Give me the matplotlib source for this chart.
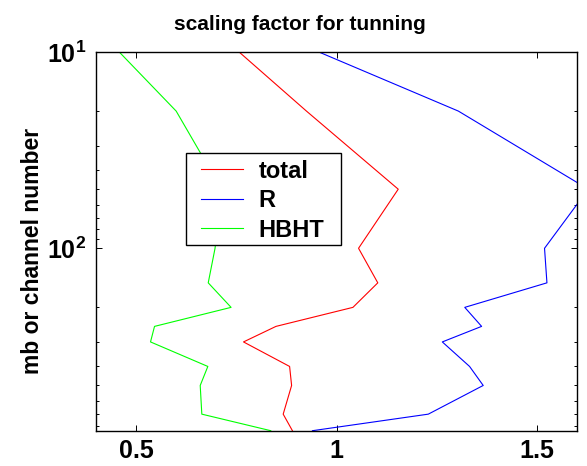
import matplotlib
matplotlib.use("Agg")
import matplotlib.pyplot as plt
from matplotlib.patches import Rectangle
from matplotlib.ticker import FixedLocator, LogLocator, NullFormatter

plt.rcParams['font.family'] = ['Liberation Sans', 'DejaVu Sans']
plt.rcParams['font.weight'] = 'bold'
plt.rcParams['mathtext.fontset'] = 'custom'
plt.rcParams['mathtext.rm'] = 'Liberation Sans:bold'
plt.rcParams['mathtext.bf'] = 'Liberation Sans:bold'
plt.rcParams['mathtext.it'] = 'Liberation Sans:bold'

# pressure levels (mb)
levels = [10, 20, 50, 100, 150, 200, 250, 300, 400, 500, 700, 850]

total = [0.757, 0.925, 1.154, 1.055, 1.103, 1.041, 0.849, 0.768, 0.883, 0.888, 0.867, 0.890]
r_part = [0.956, 1.304, 1.628, 1.519, 1.525, 1.320, 1.362, 1.264, 1.332, 1.366, 1.229, 0.940]
hbht = [0.458, 0.600, 0.713, 0.697, 0.680, 0.737, 0.546, 0.536, 0.679, 0.660, 0.664, 0.836]

x_ticks = [0.5, 1.0, 1.5]
x_tick_labels = ['0.5', '1', '1.5']
y_ticks = [10, 100]
y_tick_labels = [r'$10^{1}$', r'$10^{2}$']

W, H = 587, 466
fig = plt.figure(figsize=(W / 100, H / 100), dpi=100)
ax = fig.add_axes([96 / W, 1 - 430.7 / H, (577 - 96) / W, (430.7 - 52) / H])

ax.plot(total, levels, color='#ff0000', lw=0.8, label='total')
ax.plot(r_part, levels, color='#0000ff', lw=0.8, label='R')
ax.plot(hbht, levels, color='#00ff00', lw=0.8, label='HBHT')

ax.set_yscale('log')
ax.set_ylim(850, 10)
ax.set_xlim(0.4, 1.6)

ax.xaxis.set_major_locator(FixedLocator(x_ticks))
ax.set_xticklabels(x_tick_labels)
ax.yaxis.set_major_locator(FixedLocator(y_ticks))
ax.set_yticklabels(y_tick_labels)
ax.yaxis.set_minor_locator(LogLocator(base=10, subs=range(2, 10), numticks=20))
ax.yaxis.set_minor_formatter(NullFormatter())

ax.tick_params(which='both', direction='in', top=True, right=True, width=0.7)
ax.tick_params(which='major', length=4, labelsize=18)
ax.tick_params(which='minor', length=2.5)
ax.tick_params(axis='x', pad=6)
ax.tick_params(axis='y', pad=7)
for lab in ax.get_xticklabels() + ax.get_yticklabels():
    lab.set_fontweight('bold')
for sp in ax.spines.values():
    sp.set_linewidth(1.0)

# legend box drawn as its own rectangle, entries placed inside it
frame = Rectangle((186 / W, 1 - 245 / H), (340.7 - 186) / W, (245 - 153.3) / H,
                  transform=fig.transFigure, facecolor='white', edgecolor='black',
                  linewidth=1.0, zorder=5, clip_on=False)
ax.add_patch(frame)
leg = ax.legend(loc='upper left', bbox_to_anchor=(200.7 / W, 1 - 159.5 / H),
                bbox_transform=fig.transFigure, borderaxespad=0, borderpad=0,
                frameon=False, prop={'size': 17, 'weight': 'bold'},
                handlelength=1.8, handletextpad=0.64, labelspacing=0.28)
leg.set_zorder(6)

fig.text(300 / W, 1 - 30.5 / H, 'scaling factor for tunning', ha='center', va='baseline',
         fontsize=15, fontweight='bold')
fig.text(33 / W, 1 - 251 / H, 'mb or channel number', rotation=90, ha='center', va='center',
         fontsize=16.5, fontweight='bold')

fig.savefig('out.png', dpi=100)
